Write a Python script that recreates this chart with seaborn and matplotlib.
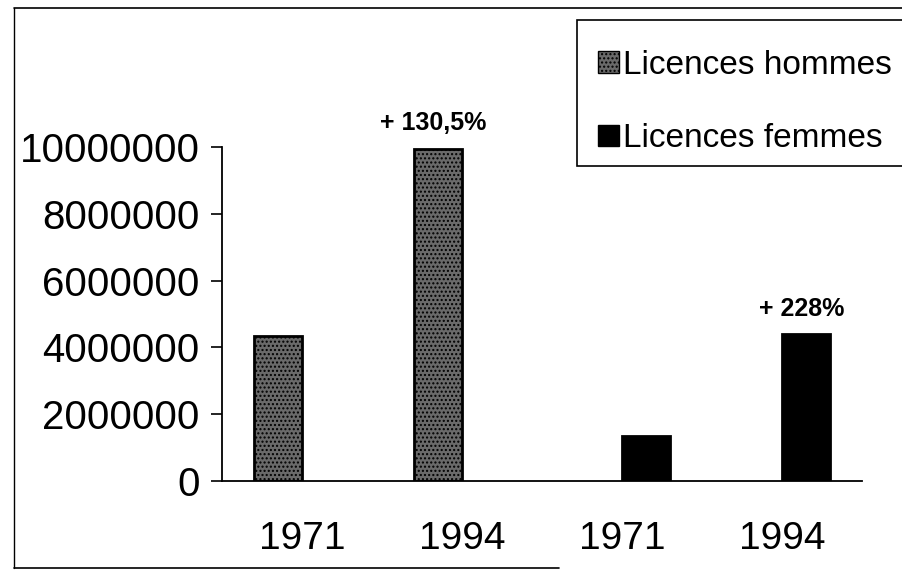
import matplotlib
matplotlib.use('Agg')
import matplotlib.pyplot as plt
import seaborn as sns
import pandas as pd
from matplotlib.patches import Patch, Rectangle
from matplotlib.lines import Line2D

# data
annees = ['1971', '1994', '1971', '1994']
groupes = ['Licences hommes', 'Licences hommes', 'Licences femmes', 'Licences femmes']
licences = [4350000, 9950000, 1340000, 4400000]
hausses = ['', '+ 130,5%', '', '+ 228%']
y_ticks = [0, 2000000, 4000000, 6000000, 8000000, 10000000]

sns.set_style('white')
plt.rcParams['font.family'] = ['Liberation Sans', 'DejaVu Sans']
plt.rcParams['text.color'] = 'black'
plt.rcParams['xtick.color'] = 'black'
plt.rcParams['ytick.color'] = 'black'
plt.rcParams['hatch.color'] = '#c8c8c8'

df = pd.DataFrame({'cle': [f'{a}_{i}' for i, a in enumerate(annees)],
                   'licences': licences, 'groupe': groupes})

fig = plt.figure(figsize=(9.02, 5.74), dpi=100)
ax = fig.add_axes([0.246, 0.162, 0.71, 0.582])

# clustered bars like the spreadsheet: men slot left, women slot right
couleurs = {'Licences hommes': '#6a6a6a', 'Licences femmes': '#000000'}
sns.barplot(data=df, x='cle', y='licences', hue='groupe',
            hue_order=['Licences hommes', 'Licences femmes'], dodge=True,
            palette=couleurs, width=0.6, edgecolor='black', linewidth=2,
            legend=False, ax=ax)

# stippled look for the men bars
for p in ax.patches:
    if abs(p.get_facecolor()[0] - 0.415) < 0.05:
        p.set_hatch('....')
        p.set_edgecolor('black')

# percentage labels above the 1994 bars
for i, (v, t, g) in enumerate(zip(licences, hausses, groupes)):
    if t:
        dx = -0.15 if g == 'Licences hommes' else 0.15
        ax.text(i + dx - 0.03, v + 400000, t, ha='center', va='bottom', fontsize=18,
                fontweight='bold', clip_on=False)

ax.set_ylim(0, 10000000)
ax.set_xlim(-0.5, 3.5)
ax.set_yticks(y_ticks)
ax.set_yticklabels([str(v) for v in y_ticks], fontsize=29)
ax.set_xticks(range(4))
ax.set_xticklabels(annees, fontsize=28)
ax.set_xticks([-0.5, 0.5, 1.5, 2.5, 3.5], minor=True)
ax.tick_params(axis='x', which='major', length=0, pad=29)
ax.tick_params(axis='x', which='minor', length=12, width=1.2, direction='out')
ax.tick_params(axis='y', length=8, width=1.2, direction='out', pad=8, left=True)
ax.set_xlabel('')
ax.set_ylabel('')
sns.despine(ax=ax)
for s in ['left', 'bottom']:
    ax.spines[s].set_linewidth(1.3)
    ax.spines[s].set_color('black')

# legend: box drawn on its own, running off the right edge like the scan
fig.add_artist(Rectangle((577 / 902, 1 - 166 / 574), 0.4, 146 / 574,
                         transform=fig.transFigure, facecolor='white',
                         edgecolor='black', lw=1.2))
handles = [Patch(facecolor='#6a6a6a', edgecolor='black', hatch='....', label='Licences hommes'),
           Patch(facecolor='black', edgecolor='black', label='Licences femmes')]
leg = fig.legend(handles=handles, loc='upper left', bbox_to_anchor=(598 / 902, 1 - 50 / 574),
                 fontsize=24, frameon=False, handlelength=0.62, handleheight=0.62,
                 handletextpad=0.12, labelspacing=1.27, borderpad=0, borderaxespad=0)

# outer frame of the scanned chart
fig.add_artist(Line2D([0.015, 1.0], [1 - 8 / 574, 1 - 8 / 574], color='black', lw=1.2))
fig.add_artist(Line2D([0.015, 0.62], [1 - 568 / 574, 1 - 568 / 574], color='black', lw=1.2))
fig.add_artist(Line2D([0.015, 0.015], [1 - 568 / 574, 1 - 8 / 574], color='black', lw=1.0))

fig.savefig('out.png', dpi=100, facecolor='white')
